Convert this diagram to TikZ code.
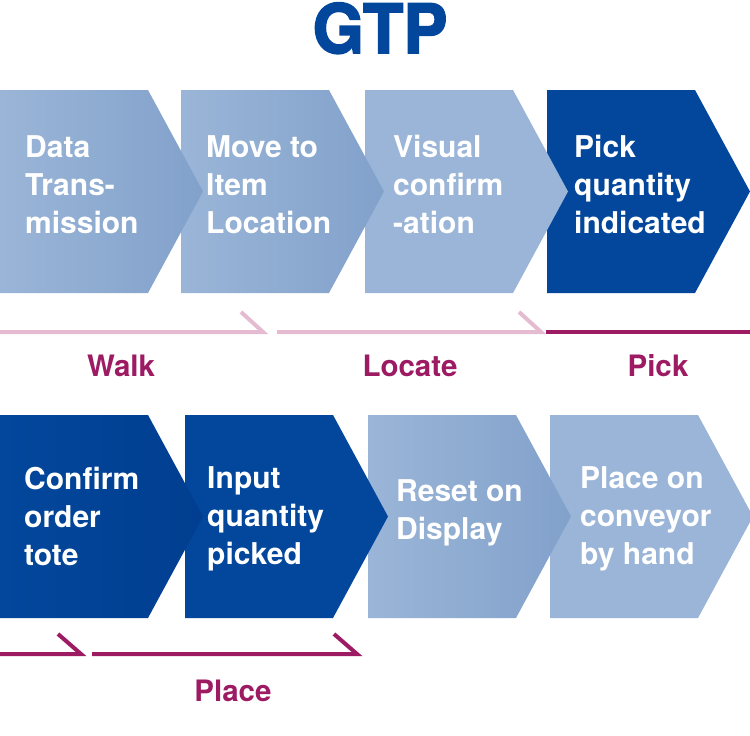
\documentclass[tikz,border=0pt]{standalone}
\usepackage{fontspec}
\setmainfont{TeX Gyre Heros}
\newfontfamily\titlefont[FakeBold=2.5]{TeX Gyre Heros}
\definecolor{lb}{RGB}{154,181,215}
\definecolor{lbd}{RGB}{130,161,203}
\definecolor{db}{RGB}{2,71,156}
\definecolor{dbd}{RGB}{1,62,144}
\definecolor{mg}{RGB}{157,27,99}
\definecolor{pk}{RGB}{228,187,209}
\newcommand\chevpath[2]{(#1,#2) -- ++(148,0) -- ++(55,101.5) -- ++(-55,101.5) -- ++(-148,0) -- cycle}
\begin{document}
\begin{tikzpicture}[x=1pt,y=-1pt,
  boxtext/.style={anchor=base west,inner sep=0pt,align=left,text=white,
    font=\fontsize{30}{38}\selectfont\bfseries},
  lbl/.style={anchor=base,inner sep=0pt,text=mg,font=\fontsize{29.5}{34}\selectfont\bfseries},
  pinkline/.style={draw=pk,line width=4pt,line join=miter},
  magline/.style={draw=mg,line width=4pt,line join=miter},
  lgrad/.style={left color=lb,middle color=lb!75!lbd,right color=lbd},
  dgrad/.style={left color=db,middle color=db,right color=dbd}]
\useasboundingbox[fill=white] (0,0) rectangle (750,736);
% title
\node[anchor=base,inner sep=0pt,text=db] (title) at (380,53)
  {\scalebox{0.97}[1]{\titlefont\bfseries\fontsize{68}{70}\selectfont GTP}};
% top row (drawn right to left so each tip lies over the next box)
\fill[db] \chevpath{547}{90};
\fill[lb] \chevpath{365}{90};
\shade[lgrad] \chevpath{181}{90};
\shade[lgrad] \chevpath{0}{90};
% bottom row
\fill[lb] \chevpath{550}{415};
\shade[lgrad] \chevpath{368}{415};
\fill[db] \chevpath{185}{415};
\shade[dgrad] \chevpath{0}{415};
% texts (anchor = baseline of the last line)
\node[boxtext] (t1) at (25,233) {Data\\Trans-\\mission};
\node[boxtext] (t2) at (206,233) {Move to\\Item\\Location};
\node[boxtext] (t3) at (393,233) {Visual\\confirm\\-ation};
\node[boxtext] (t4) at (574,233) {Pick\\quantity\\indicated};
\node[boxtext] (t5) at (24,565) {Confirm\\order\\tote};
\node[boxtext] (t6) at (207,564) {Input\\quantity\\picked};
\node[boxtext] (t7) at (396,539) {Reset on\\Display};
\node[boxtext] (t8) at (580,564) {Place on\\conveyor\\by hand};
% phase lines
\coordinate (w0) at (0,332); \coordinate (w1) at (263,332); \coordinate (w2) at (241,312);
\coordinate (l0) at (277,332); \coordinate (l1) at (541,332); \coordinate (l2) at (519,312);
\coordinate (p0) at (546,332); \coordinate (p1) at (750,332);
\coordinate (a0) at (0,654); \coordinate (a1) at (81,654); \coordinate (a2) at (58,634);
\coordinate (b0) at (92,654); \coordinate (b1) at (357,654); \coordinate (b2) at (334,634);
\draw[pinkline] (w0) -- (w1) -- (w2);
\draw[pinkline] (l0) -- (l1) -- (l2);
\draw[magline] (p0) -- (p1);
\draw[magline] (a0) -- (a1) -- (a2);
\draw[magline] (b0) -- (b1) -- (b2);
% phase labels
\node[lbl] (walk) at (121,376) {Walk};
\node[lbl] (locate) at (410,376) {Locate};
\node[lbl] (pick) at (658,376) {Pick};
\node[lbl] (place) at (233,701) {Place};
\end{tikzpicture}
\end{document}
